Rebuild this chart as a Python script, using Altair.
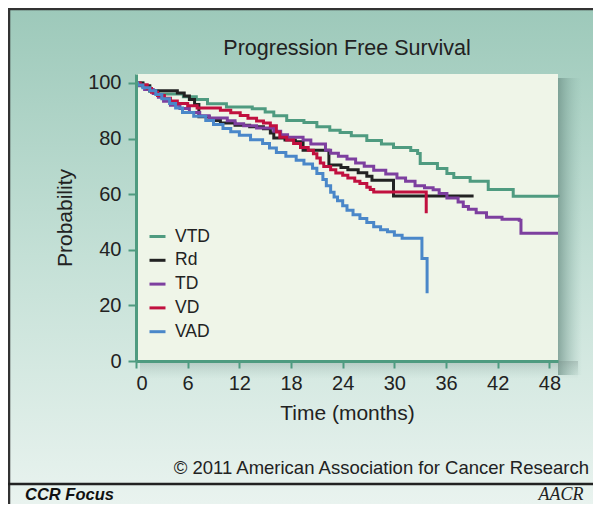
import altair as alt
import pandas as pd

# ---------------- data ----------------
groups = ["VTD", "Rd", "TD", "VD", "VAD"]
colors = ["#4f9b80", "#222222", "#7d3f9f", "#c1103f", "#4a87c9"]

vtd_t = [0, 0.8, 1.6, 2.5, 5.5, 7, 8.3, 10.5, 13.5, 15, 16, 17.5, 19.5, 21, 22.5, 23.7, 25, 26.8, 28.5, 29.9, 31.9, 32.7, 33, 35, 36.1, 36.9, 38.8, 40.9, 43.8, 49]
vtd_p = [100, 98.5, 97, 96, 95, 94, 92.5, 91.3, 90.7, 89.5, 88.2, 86.5, 85.8, 84.2, 83, 82.2, 81, 79.3, 78, 76.8, 75.7, 74.6, 71, 69.2, 67.4, 66, 64.6, 61.7, 59.2, 59]

rd_t = [0, 0.8, 1.6, 4.8, 5.6, 6.2, 6.8, 7.3, 8.5, 9.8, 11.5, 13.2, 14.8, 15.6, 16, 17.3, 18.5, 19.4, 22.4, 23.8, 24.6, 25.8, 26.8, 27.4, 29.9, 39.2]
rd_p = [100, 99, 97.2, 96.4, 95.3, 94, 92.2, 87.8, 86.5, 85.6, 84.8, 84.2, 83.5, 82, 80.2, 79.5, 78.8, 75.8, 70.5, 69.6, 68.8, 67.7, 66.4, 65, 59.3, 59.3]

td_t = [0, 0.3, 1, 2, 2.6, 3.2, 4, 5.1, 6.2, 7.4, 8.5, 10.6, 11.5, 12.5, 14, 16, 16.8, 17.6, 19.4, 20.3, 22, 22.6, 23.5, 24.5, 25.5, 26.5, 27.6, 29, 30.3, 31.3, 32.4, 33.5, 34.5, 35.2, 36.1, 37.4, 38, 38.6, 39.5, 40.7, 42.5, 44.5, 44.7, 49]
td_p = [100, 99, 97.6, 96.2, 94.8, 93.4, 92, 90.8, 89.4, 88.2, 87.4, 86.4, 85.3, 84.6, 83.8, 82.6, 81.4, 80.5, 79.5, 78, 75.8, 74.7, 73.6, 72.6, 71.2, 70, 68.6, 67.2, 65.8, 64.6, 63, 62.3, 61.6, 60.2, 58.6, 57.2, 55.6, 54.6, 53.3, 51.7, 51, 50.6, 45.9, 45.9]

vd_t = [0, 0.5, 1.3, 1.8, 2.5, 3.3, 4, 4.8, 6, 7.1, 9.8, 11, 12.1, 13, 14, 14.8, 15.6, 16.3, 16.7, 17.5, 18.3, 19.1, 20, 20.6, 21, 21.4, 21.8, 22.6, 23.2, 24, 24.6, 25.4, 26, 26.8, 27.2, 27.6, 33.7]
vd_p = [100, 99.3, 98, 96.6, 95.5, 94.5, 93.5, 92.6, 91.8, 91, 90.2, 89.3, 88.3, 87.3, 86.3, 85.6, 84.6, 82.3, 80.5, 79.5, 78.2, 76.8, 75.8, 74.5, 73, 71.2, 69.9, 68.8, 67.6, 66.8, 65.8, 64.6, 63.8, 62.5, 61.7, 60.8, 53.1]

vad_t = [0, 0.2, 0.8, 1.6, 2.3, 3, 3.9, 4.6, 5.4, 6.7, 8.1, 9, 10.1, 11, 12, 13.3, 14.7, 15.5, 16.3, 17.4, 18.6, 19.5, 20.5, 21, 21.7, 22.1, 22.6, 23, 23.4, 24, 24.5, 25.2, 26, 26.8, 27.6, 28.4, 29.2, 30, 30.9, 33.2, 33.8]
vad_p = [100, 99.2, 98.3, 97.2, 95.8, 94.3, 92.6, 91, 89.4, 88, 86.5, 85, 83.6, 82.4, 81.2, 79.6, 78.2, 76.6, 75, 73.6, 72.2, 70.8, 69.3, 67.4, 65.3, 63, 60.7, 59, 57.6, 55.8, 54.2, 52.6, 51.2, 49.8, 48.3, 47.2, 46.5, 45.2, 44.1, 36.9, 24.4]

x_ticks = [0, 6, 12, 18, 24, 30, 36, 42, 48]
y_ticks = [0, 20, 40, 60, 80, 100]

title_text = "Progression Free Survival"
x_title = "Time (months)"
y_title = "Probability"
copyright_text = "© 2011 American Association for Cancer Research"
footer_text = "CCR Focus"
logo_text = "AACR"

# ---------------- build table ----------------
series = {"VTD": (vtd_t, vtd_p), "Rd": (rd_t, rd_p), "TD": (td_t, td_p),
          "VD": (vd_t, vd_p), "VAD": (vad_t, vad_p)}
rows = []
for g in groups:
    ts, ps = series[g]
    for t, p in zip(ts, ps):
        rows.append({"group": g, "t": t, "p": p})
df = pd.DataFrame(rows)

W, H = 422, 287
PAD_L, PAD_T = 128, 66
TOT_W, TOT_H = 585, 496
FONT = "Liberation Sans"
GREEN = "#4f9b80"
PY = 74  # page y of plot top
PX = 136  # page x of plot left

one = alt.Data(values=[{"d": 0}])

bg_grad = alt.LinearGradient(
    gradient="linear",
    stops=[alt.GradientStop(color="#9dc9ba", offset=0),
           alt.GradientStop(color="#c4e0d6", offset=0.5),
           alt.GradientStop(color="#e9f3ef", offset=1)],
    x1=0, x2=0, y1=0, y2=1)

right_shadow = alt.LinearGradient(
    gradient="linear",
    stops=[alt.GradientStop(color="rgba(110,145,135,0.75)", offset=0),
           alt.GradientStop(color="rgba(150,190,178,0)", offset=1)],
    x1=0, x2=1, y1=0, y2=0)

bottom_shadow = alt.LinearGradient(
    gradient="linear",
    stops=[alt.GradientStop(color="rgba(120,140,135,0.35)", offset=0),
           alt.GradientStop(color="rgba(150,180,170,0)", offset=1)],
    x1=0, x2=0, y1=0, y2=1)

background = alt.Chart(one).mark_rect(fill=bg_grad).encode(
    x=alt.value(-PAD_L), x2=alt.value(TOT_W - PAD_L),
    y=alt.value(-PAD_T), y2=alt.value(TOT_H - PAD_T))

shadow_r = alt.Chart(one).mark_rect(fill=right_shadow).encode(
    x=alt.value(W), x2=alt.value(W + 24), y=alt.value(4), y2=alt.value(H + 14))

shadow_b = alt.Chart(one).mark_rect(fill=bottom_shadow).encode(
    x=alt.value(4), x2=alt.value(W + 20), y=alt.value(H), y2=alt.value(H + 18))

plot_fill = alt.Chart(one).mark_rect(fill="#eff5e8").encode(
    x=alt.value(0), x2=alt.value(W), y=alt.value(0), y2=alt.value(H))

frame_top = alt.Chart(one).mark_rule(color="#333333", strokeWidth=2.5).encode(
    x=alt.value(-PAD_L), x2=alt.value(TOT_W - PAD_L), y=alt.value(-PAD_T + 1))
frame_left = alt.Chart(one).mark_rule(color="#333333", strokeWidth=2.5).encode(
    x=alt.value(-PAD_L + 1), y=alt.value(-PAD_T), y2=alt.value(TOT_H - PAD_T))
separator = alt.Chart(one).mark_rule(color="#222222", strokeWidth=2.5).encode(
    x=alt.value(-PAD_L), x2=alt.value(TOT_W - PAD_L), y=alt.value(484 - PY))

title = alt.Chart(one).mark_text(font=FONT, fontSize=21.5, color="#222222",
                                 align="center", baseline="middle").encode(
    x=alt.value(W / 2), y=alt.value(49 - PY), text=alt.value(title_text))
copyright = alt.Chart(one).mark_text(font=FONT, fontSize=18.5, color="#222222",
                                     align="right", baseline="middle").encode(
    x=alt.value(589 - PX), y=alt.value(468 - PY), text=alt.value(copyright_text))
footer = alt.Chart(one).mark_text(font=FONT, fontSize=16.5, fontWeight="bold",
                                  fontStyle="italic", color="#111111",
                                  align="left", baseline="alphabetic").encode(
    x=alt.value(25 - PX), y=alt.value(500 - PY), text=alt.value(footer_text))
logo = alt.Chart(one).mark_text(font="Liberation Serif", fontSize=18,
                                fontStyle="italic", color="#222222",
                                align="center", baseline="alphabetic").encode(
    x=alt.value(561 - PX), y=alt.value(500 - PY), text=alt.value(logo_text))

lines = alt.Chart(df).mark_line(interpolate="step-after", strokeWidth=3).encode(
    x=alt.X("t:Q", scale=alt.Scale(domain=[0, 49], nice=False, zero=False),
            axis=alt.Axis(values=x_ticks, title=x_title, grid=False,
                          domainColor=GREEN, domainWidth=3, tickColor=GREEN,
                          tickWidth=2, tickSize=7, labelPadding=5,
                          labelFont=FONT, labelFontSize=20, labelColor="#222222",
                          titleFont=FONT, titleFontSize=21, titleFontWeight="normal",
                          titleColor="#222222", titleX=W / 2, titleY=52,
                          titleAlign="center", titleBaseline="middle", zindex=1)),
    y=alt.Y("p:Q", scale=alt.Scale(domain=[0, 103.2], nice=False),
            axis=alt.Axis(values=y_ticks, title=y_title, grid=False,
                          domainColor=GREEN, domainWidth=3, tickColor=GREEN,
                          tickWidth=2, tickSize=8, labelPadding=7,
                          labelFont=FONT, labelFontSize=20, labelColor="#222222",
                          titleFont=FONT, titleFontSize=21, titleFontWeight="normal",
                          titleColor="#222222", titleX=-71, titleY=H / 2,
                          titleAngle=270, titleAlign="center",
                          titleBaseline="middle", zindex=1)),
    color=alt.Color("group:N", sort=groups,
                    scale=alt.Scale(domain=groups, range=colors),
                    legend=alt.Legend(title=None, orient="none", legendX=12,
                                      legendY=153, padding=0, symbolType="stroke",
                                      symbolSize=256, symbolStrokeWidth=3,
                                      labelFont=FONT, labelFontSize=17.5,
                                      labelColor="#222222", rowPadding=5.8,
                                      labelOffset=8, zindex=1)),
    order=alt.Order("t:Q"),
)

chart = alt.layer(
    background, shadow_r, shadow_b, plot_fill, lines,
    frame_top, frame_left, separator, title, copyright, footer, logo,
).properties(
    width=W, height=H,
    padding={"left": PAD_L, "top": PAD_T, "right": TOT_W - PAD_L - W,
             "bottom": TOT_H - PAD_T - H},
    autosize=alt.AutoSizeParams(type="none"),
    background="white",
).configure_view(stroke=None)

chart.save("out.html", embed_options={"renderer": "svg", "actions": False})
